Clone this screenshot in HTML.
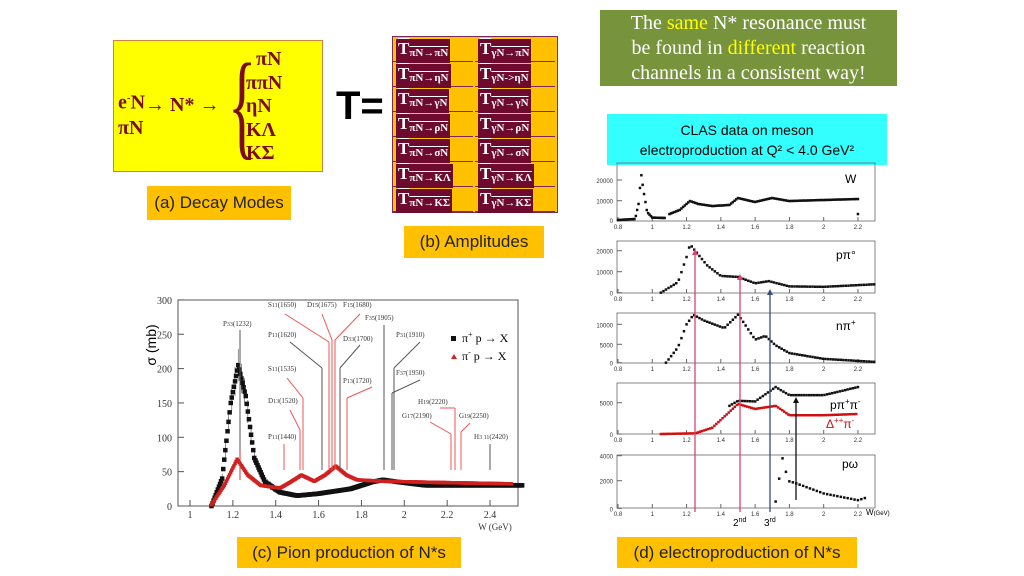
<!DOCTYPE html>
<html><head><meta charset="utf-8"><style>
body{margin:0;background:#fff;width:1024px;height:576px;overflow:hidden;position:relative;font-family:"Liberation Sans",sans-serif}
.abs{position:absolute}
.lab{position:absolute;background:#ffc000;color:#222;font-size:17px;display:flex;align-items:center;justify-content:center}
.cell{position:absolute;width:80px;height:24px;}
.cell span{position:absolute;left:3px;top:2px;background:#6d0a2e;color:#fff;font-family:"Liberation Serif",serif;font-weight:bold;font-size:17px;padding:0 2px;line-height:20px;white-space:nowrap;text-decoration:overline}
.cell span sub{font-size:11px;vertical-align:-2px;text-decoration:none}
</style></head><body>
<div class="abs" style="left:113px;top:40px;width:208px;height:130px;background:#ffff00;border:1px solid #d08040"></div>
<div class="abs" style="left:118px;top:86px;font:bold 20px 'Liberation Serif',serif;color:#7a0c1c;line-height:25px">e<sup style="font-size:11px">-</sup>N<br>πN</div>
<div class="abs" style="left:145px;top:94px;font:bold 20px 'Liberation Serif',serif;color:#7a0c1c">→ N* →</div>
<div class="abs" style="left:228px;top:46px;font:300 118px 'Liberation Serif',serif;color:#7a0c1c;transform:scaleX(0.5);transform-origin:left top;line-height:118px">{</div>
<div class="abs" style="left:246px;top:48px;font:bold 20px 'Liberation Serif',serif;color:#7a0c1c;line-height:23.5px">&nbsp;&nbsp;πN<br>ππN<br>ηN<br>KΛ<br>KΣ</div>
<div class="lab" style="left:147px;top:186px;width:144px;height:34px">(a) Decay Modes</div>
<div class="abs" style="left:336px;top:84px;font:bold 40px 'Liberation Sans',sans-serif;color:#000">T=</div>
<div class="abs" style="left:392px;top:36px;width:164px;height:175px;background:#ffc000;border:1px solid #7a2a5a"></div>
<div id="tbl"></div>
<div class="lab" style="left:404px;top:226px;width:140px;height:32px">(b) Amplitudes</div>
<div class="abs" style="left:600px;top:10px;width:297px;height:76px;background:#77933c;color:#fff;font:20px 'Liberation Serif',serif;text-align:center;line-height:25px;display:flex;align-items:center;justify-content:center"><div>The <span style="color:#ffff00">same</span> N* resonance must<br>be found in <span style="color:#ffff00">different</span> reaction<br>channels in a consistent way!</div></div>
<div class="abs" style="left:607px;top:114px;width:280px;height:51px;background:#33ffff;color:#000;font:14px 'Liberation Sans',sans-serif;text-align:center;line-height:20px;display:flex;align-items:center;justify-content:center"><div>CLAS data on meson<br>electroproduction at Q² &lt; 4.0 GeV²</div></div>
<div class="lab" style="left:237px;top:537px;width:224px;height:31px">(c) Pion production of N*s</div>
<div class="lab" style="left:617px;top:537px;width:240px;height:31px">(d) electroproduction of N*s</div>
<svg id="s" class="abs" style="left:0;top:0" width="1024" height="576" font-family="Liberation Sans, sans-serif"></svg>
<script>
var rows=[["πN→πN","γN→πN"],["πN→ηN","γN->ηN"],["πN→γN","γN→γN"],["πN→ρN","γN→ρN"],["πN→σN","γN→σN"],["πN→KΛ","γN→KΛ"],["πN→KΣ","γN→KΣ"]];
var h="";rows.forEach(function(r,i){for(var j=0;j<2;j++){h+='<div class="cell" style="left:'+(393+j*82)+'px;top:'+(37+i*25)+'px;border-bottom:1px solid #7a2a5a"><span>T<sub>'+r[j]+'</sub></span></div>';}});
document.getElementById("tbl").innerHTML=h;
var S=document.getElementById("s"),o="";
function L(x1,y1,x2,y2,c,w){o+='<line x1="'+x1+'" y1="'+y1+'" x2="'+x2+'" y2="'+y2+'" stroke="'+c+'" stroke-width="'+(w||1)+'"/>';}
function T(x,y,t,sz,c,a,f){o+='<text x="'+x+'" y="'+y+'" font-size="'+sz+'" fill="'+(c||"#000")+'"'+(a?' text-anchor="'+a+'"':'')+(f?' font-family="'+f+'"':'')+'>'+t+'</text>';}
function interp(p,x){for(var i=0;i<p.length-1;i++){if(x>=p[i][0]&&x<=p[i+1][0]){var t=(x-p[i][0])/(p[i+1][0]-p[i][0]);return p[i][1]+t*(p[i+1][1]-p[i][1]);}}return null;}
function dots(p,x0,x1,st,fx,fy,c,sz){for(var x=x0;x<=x1+1e-9;x+=st){var y=interp(p,x);if(y===null)continue;o+='<rect x="'+(fx(x)-sz/2).toFixed(1)+'" y="'+(fy(y)-sz/2).toFixed(1)+'" width="'+sz+'" height="'+sz+'" fill="'+c+'"/>';}}
var lx=function(w){return 190+(w-1)*214.3},ly=function(s){return 506-s*0.687};
o+='<rect x="178" y="300" width="340" height="206" fill="none" stroke="#555"/>';
for(var v=0;v<=300;v+=50){T(172,ly(v)+4,v,10,"#333","end","Liberation Serif");L(178,ly(v),184,ly(v),"#555");}
for(var i=0;i<8;i++){var w=1+i*0.2;T(lx(w),518,(Math.round(w*10)/10),10,"#333","middle","Liberation Serif");L(lx(w),506,lx(w),500,"#555");}
T(495,530,"W (GeV)",9,"#333","middle","Liberation Serif");
o+='<text transform="translate(156,345) rotate(-90)" font-size="14" text-anchor="middle">σ (mb)</text>';
var bl=[[1.1,0],[1.15,40],[1.19,150],[1.225,205],[1.26,160],[1.3,70],[1.35,35],[1.42,20],[1.5,15],[1.6,18],[1.75,25],[1.85,35],[1.9,38],[1.97,35],[2.1,30],[2.55,30]];
var rd=[[1.1,2],[1.16,30],[1.22,68],[1.27,45],[1.33,30],[1.42,26],[1.47,35],[1.52,45],[1.58,36],[1.63,45],[1.68,58],[1.73,45],[1.78,38],[1.9,36],[2.2,34],[2.55,32]];
// error bars
for(var x=1.12;x<1.4;x+=0.015){var y=interp(bl,x);L(lx(x),ly(y*1.1+3),lx(x),ly(y*0.9-3),"#444",0.6);}
dots(bl,1.1,2.55,0.005,lx,ly,"#111",4.5);dots(rd,1.1,2.5,0.005,lx,ly,"#d02020",3.5);
o+='<rect x="451" y="336" width="5" height="5" fill="#111"/>';T(462,342,"π<tspan font-size=\"8\" dy=\"-5\">+</tspan><tspan dy=\"5\"> p → X</tspan>",12,"#000",null,"Liberation Serif");
o+='<path d="M451,359 l3,-5 l3,5z" fill="#d02020"/>';T(462,360,"π<tspan font-size=\"8\" dy=\"-5\">-</tspan><tspan dy=\"5\"> p → X</tspan>",12,"#000",null,"Liberation Serif");
var res=[["P<tspan font-size='6'>33</tspan>(1232)",223,326],["S<tspan font-size='6'>11</tspan>(1650)",268,307],["D<tspan font-size='6'>15</tspan>(1675)",307,307],["F<tspan font-size='6'>15</tspan>(1680)",343,307],["F<tspan font-size='6'>35</tspan>(1905)",365,320],["P<tspan font-size='6'>31</tspan>(1910)",396,337],["P<tspan font-size='6'>11</tspan>(1620)",268,337],["D<tspan font-size='6'>33</tspan>(1700)",343,341],["S<tspan font-size='6'>11</tspan>(1535)",268,371],["P<tspan font-size='6'>13</tspan>(1720)",343,383],["F<tspan font-size='6'>37</tspan>(1950)",396,375],["D<tspan font-size='6'>13</tspan>(1520)",268,403],["H<tspan font-size='6'>19</tspan>(2220)",418,404],["G<tspan font-size='6'>17</tspan>(2190)",402,418],["G<tspan font-size='6'>19</tspan>(2250)",459,418],["P<tspan font-size='6'>11</tspan>(1440)",268,439],["H<tspan font-size='6'>3 11</tspan>(2420)",474,439]];
res.forEach(function(r){T(r[1],r[2],r[0],7,"#333",null,"Liberation Serif");});
var ln=[[240,330,240,460,"#555"],[240,450,240,480,"#c33"],[285,314,329,342,"#e55"],[322,314,332,340,"#e55"],[360,314,335,340,"#e55"],[290,342,322,368,"#555"],[322,368,322,470,"#555"],[360,345,340,368,"#555"],[340,368,340,470,"#555"],[287,378,303,398,"#e55"],[303,398,303,470,"#e55"],[372,387,347,398,"#e55"],[347,398,347,470,"#e55"],[329,342,329,470,"#e55"],[332,340,332,470,"#e55"],[335,340,335,470,"#e55"],[290,410,300,430,"#e55"],[300,430,300,470,"#e55"],[384,325,384,470,"#555"],[420,342,394,368,"#555"],[394,368,394,470,"#555"],[420,380,392,393,"#555"],[392,393,392,470,"#555"],[284,444,284,470,"#e55"],[430,422,451,434,"#e55"],[451,434,451,470,"#e55"],[440,408,455,408,"#e55"],[455,408,455,470,"#e55"],[470,423,461,432,"#e55"],[461,432,461,470,"#e55"],[490,444,490,470,"#555"]];
ln.forEach(function(a){L(a[0],a[1],a[2],a[3],a[4],1);});
var rx=function(w){return 618+(w-0.8)*171.4};
var P=[{t:163,b:221,ticks:[[0,220],[10000,200.7],[20000,180]],k:20000/40,z:220},
{t:241,b:293,ticks:[[0,292.7],[10000,271.7],[20000,250.7]],k:10000/21,z:292.7},
{t:313,b:363,ticks:[[0,362.7],[5000,344.3],[10000,324.3]],k:5000/19.2,z:362.7},
{t:383,b:434,ticks:[[0,434],[5000,402.7]],k:5000/31.3,z:434},
{t:455,b:508,ticks:[[0,508.3],[2000,480.7],[4000,455.7]],k:1000/13.5,z:508.3}];
P.forEach(function(p,i){o+='<rect x="617" y="'+p.t+'" width="258" height="'+(p.b-p.t)+'" fill="none" stroke="#666" stroke-width="0.8"/>';
p.ticks.forEach(function(t){T(613,t[1]+3,t[0],6,"#333","end");L(617,t[1],622,t[1],"#666");});
[0.8,1,1.2,1.4,1.6,1.8,2,2.2].forEach(function(w){T(rx(w),p.b+8,w,6,"#333","middle");L(rx(w),p.b,rx(w),p.b-4,"#666");});});
function pd(i,d,x0,x1,c,st){var p=P[i];dots(d,x0,x1,st||0.01,rx,function(v){return p.z-v/p.k},c,2.5);}
pd(0,[[0.8,0],[0.9,500],[0.92,8000],[0.935,23000],[0.95,14000],[0.97,4000],[1.0,1200],[1.08,1000]],0.8,1.08,"#111",0.008);
pd(0,[[1.1,3000],[1.16,5000],[1.22,9500],[1.27,8000],[1.35,7000],[1.45,7500],[1.5,11000],[1.6,9000],[1.7,11000],[1.8,9500],[2.2,10500]],1.1,2.2,"#111",0.01);
pd(0,[[2.19,3000],[2.21,3000]],2.2,2.2,"#111");
pd(1,[[1.05,0],[1.15,5000],[1.2,17000],[1.22,23000],[1.26,19000],[1.32,13000],[1.4,8000],[1.5,7500],[1.6,4500],[1.68,5500],[1.8,3000],[2.0,2800],[2.3,4000]],1.05,2.3,"#111",0.015);
pd(2,[[1.08,0],[1.15,4000],[1.2,10000],[1.24,12500],[1.3,11000],[1.42,9000],[1.5,12500],[1.54,10000],[1.6,6000],[1.66,7000],[1.72,4500],[1.8,2500],[2.0,1000],[2.3,200]],1.08,2.3,"#111",0.015);
pd(3,[[1.45,4500],[1.5,5300],[1.6,5200],[1.72,7500],[1.8,6200],[2.0,6200],[2.2,7500]],1.45,2.2,"#111",0.015);
pd(3,[[1.05,0],[1.25,100],[1.35,1000],[1.5,4800],[1.6,4000],[1.72,4500],[1.8,3000],[2.0,3000],[2.2,3200]],1.05,2.2,"#d01010",0.012);
pd(4,[[1.72,500],[1.74,2200],[1.76,3700],[1.78,2700],[1.8,2000],[1.85,1800],[2.0,1100],[2.2,600],[2.25,800]],1.72,2.25,"#111",0.02);
T(845,183,"W",12,"#000");T(836,259,"pπ°",12,"#000");T(836,330,"nπ<tspan font-size='8' dy='-5'>+</tspan>",12,"#000");
T(830,409,"pπ<tspan font-size='8' dy='-5'>+</tspan><tspan dy='5'>π</tspan><tspan font-size='8' dy='-5'>-</tspan>",12,"#000");
T(826,428,"Δ<tspan font-size='8' dy='-5'>++</tspan><tspan dy='5'>π</tspan><tspan font-size='8' dy='-5'>-</tspan>",12,"#d01010");T(842,468,"pω",12,"#000");
function arrow(x,y1,y2,c){L(x,y1,x,y2+4,c,1.3);o+='<path d="M'+(x-3)+','+(y2+6)+' L'+x+','+y2+' L'+(x+3)+','+(y2+6)+'z" fill="'+c+'"/>';}
arrow(695,512,249,"#e0407a");arrow(740,512,274,"#e0407a");arrow(770,512,289,"#34507a");arrow(796,500,397,"#111");
T(733,526,"2<tspan font-size='7' dy='-4'>nd</tspan>",10,"#000");T(764,526,"3<tspan font-size='7' dy='-4'>rd</tspan>",10,"#000");
T(866,515,"W<tspan font-size='6'>(GeV)</tspan>",8,"#000");
S.innerHTML=o;
</script>
</body></html>
